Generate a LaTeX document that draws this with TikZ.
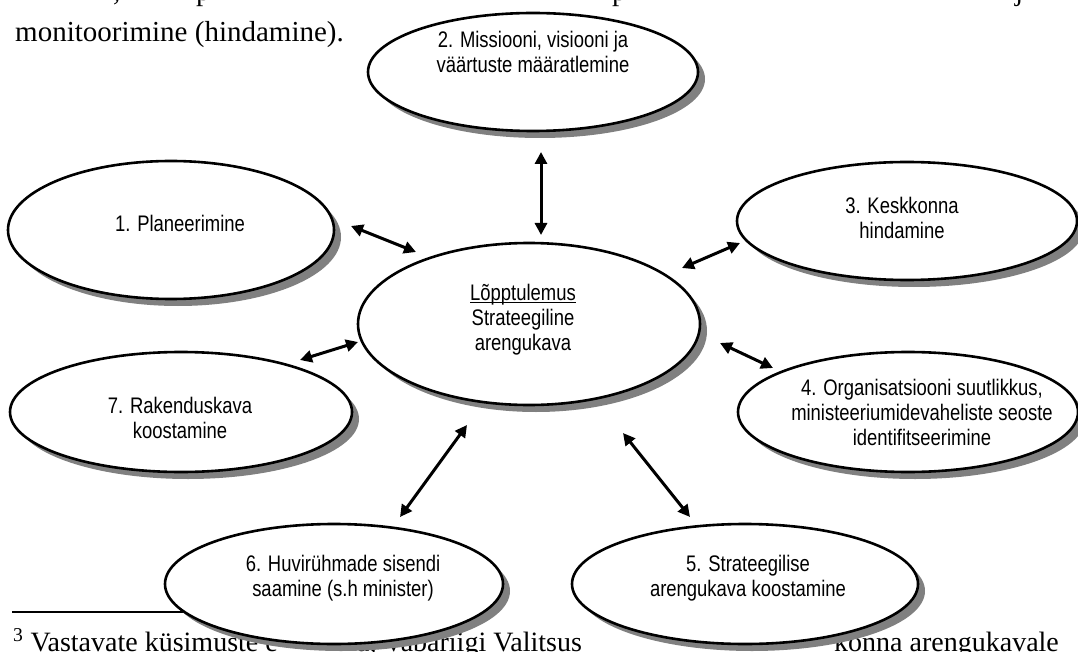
\documentclass[tikz,border=0pt]{standalone}
\usepackage{fontspec}
\setmainfont{Liberation Serif}
\newfontfamily\narrowsans[FakeStretch=0.82]{Liberation Sans}
\usetikzlibrary{shapes.geometric,arrows.meta,shadows}
\definecolor{shadowgray}{RGB}{128,128,128}
\begin{document}
\begin{tikzpicture}[x=1pt,y=-1pt,
  bub/.style={ellipse, draw=black, line width=2.6pt, fill=white, inner sep=0pt,
     drop shadow={shadow xshift=7pt, shadow yshift=-7pt, fill=shadowgray, opacity=1}},
  lbl/.style={font=\narrowsans\fontsize{22.5}{25}\selectfont, align=center, inner sep=0pt},
  dbl/.style={{Triangle[length=12pt,width=12pt]}-{Triangle[length=12pt,width=12pt]}, line width=3pt},
  bodytxt/.style={font=\fontsize{29}{33}\selectfont, inner sep=0pt, anchor=base west},
  foot/.style={font=\fontsize{28}{30}\selectfont, inner sep=0pt, anchor=base west}
]
\clip (0,0) rectangle (1078,652);
\fill[white] (0,0) rectangle (1078,652);

% page text
\node[bodytxt] (p0) at (113,1) {,};
\node[bodytxt] (p1) at (196,1) {p};
\node[bodytxt] (p2) at (612,1) {p};
\node[bodytxt] (p3) at (1015,1) {j};
\node[bodytxt] (mon) at (15,42) {monitoorimine (hindamine).};

% footnote
\draw[line width=1.2pt] (12,612) -- (220,612);
\node[foot] (f1) at (13,651) {\textsuperscript{3} Vastavate küsimuste e};
\node[foot] (f2) at (357,651) {a, Vabariigi Valitsus};
\node[foot] (f3) at (834,651) {konna arengukavale};

% ellipses
\node[bub, minimum width=330pt, minimum height=118pt] (e2) at (533,72) {};
\node[bub, minimum width=326pt, minimum height=138pt] (e1) at (171,230) {};
\node[bub, minimum width=340pt, minimum height=118pt] (e3) at (907,221) {};
\node[bub, minimum width=342pt, minimum height=162pt] (ec) at (529,324) {};
\node[bub, minimum width=342pt, minimum height=120pt] (e7) at (181,412) {};
\node[bub, minimum width=340pt, minimum height=120pt] (e4) at (908,412) {};
\node[bub, minimum width=338pt, minimum height=120pt] (e6) at (334,584) {};
\node[bub, minimum width=346pt, minimum height=120pt] (e5) at (745,584) {};

% labels
\node[lbl] (t2) at (533,52) {2. Missiooni, visiooni ja\\väärtuste määratlemine};
\node[lbl] (t1) at (180,223) {1. Planeerimine};
\node[lbl] (t3) at (902,218) {3. Keskkonna\\hindamine};
\node[lbl] (tc) at (523,328) {\underline{\smash{Lõpptulemus}}\\Strateegiline\\arengukava};
\node[lbl] (t7) at (180,418) {7. Rakenduskava\\koostamine};
\node[lbl] (t4) at (922,412) {4. Organisatsiooni suutlikkus,\\ministeeriumidevaheliste seoste\\identifitseerimine};
\node[lbl] (t6) at (343,578) {6. Huvirühmade sisendi\\saamine (s.h minister)};
\node[lbl] (t5) at (748,578) {5. Strateegilise\\arengukava koostamine};

% arrow end points
\coordinate (a2s) at (541,152); \coordinate (a2e) at (541,235);
\coordinate (a1s) at (351,226); \coordinate (a1e) at (416,252);
\coordinate (a3s) at (740,243); \coordinate (a3e) at (682,268);
\coordinate (a4s) at (720,343); \coordinate (a4e) at (773,368);
\coordinate (a7s) at (300,360); \coordinate (a7e) at (358,342);
\coordinate (a6s) at (467,425); \coordinate (a6e) at (400,517);
\coordinate (a5s) at (623,433); \coordinate (a5e) at (690,517);
\draw[dbl] (a2s) -- (a2e);
\draw[dbl] (a1s) -- (a1e);
\draw[dbl] (a3s) -- (a3e);
\draw[dbl] (a4s) -- (a4e);
\draw[dbl] (a7s) -- (a7e);
\draw[dbl] (a6s) -- (a6e);
\draw[dbl] (a5s) -- (a5e);
\end{tikzpicture}
\end{document}
